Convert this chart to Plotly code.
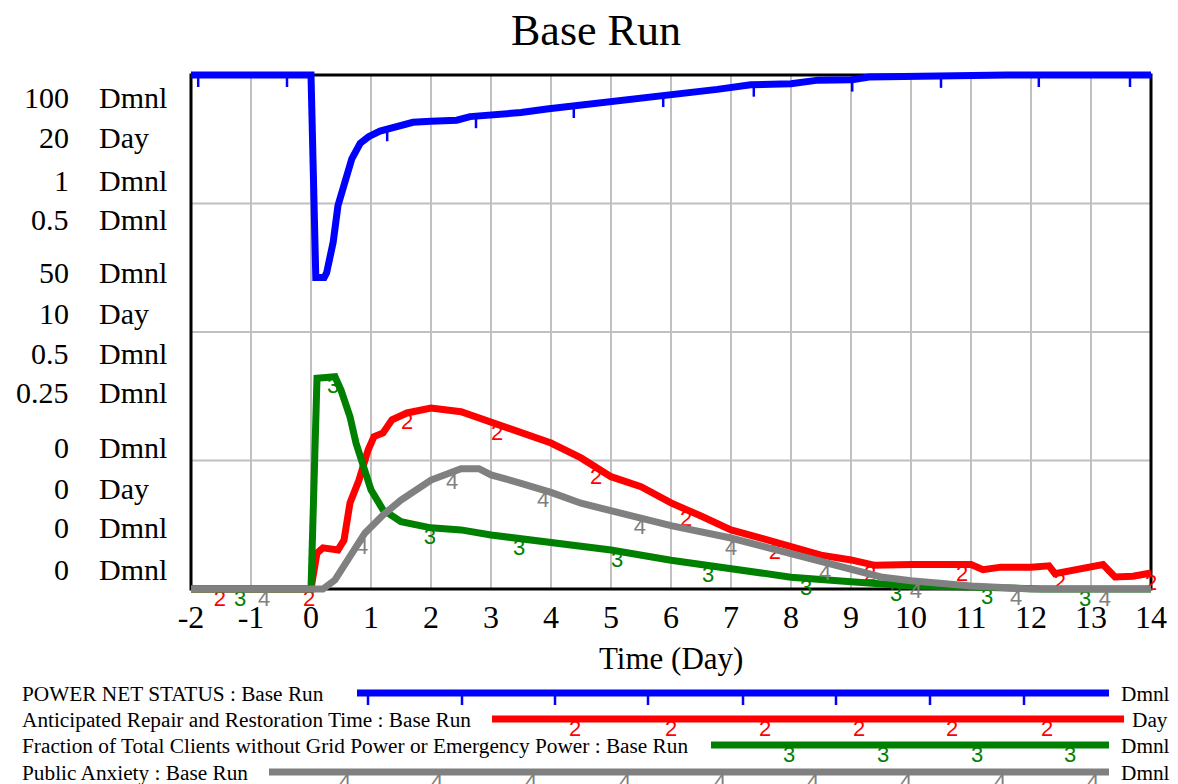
import numpy as np
import plotly.graph_objects as go

# ---------------- data ----------------
time_power = [-2, 0, 0.08, 0.22, 0.26, 0.37, 0.45, 0.53, 0.68, 0.82, 0.96, 1.15, 1.43, 1.7, 2.0,
              2.43, 2.65, 3.1, 3.5, 3.93, 4.48, 5.04, 5.6, 6.15, 6.77, 7.33, 8.0, 8.45, 9.02, 9.3,
              10.03, 11.48, 11.6, 14]
power_net_status = [100, 100, 60.6, 60.6, 61.5, 67.5, 74.6, 77.9, 83.7, 86.7, 88.0, 89.1, 89.9, 90.8, 91.0,
                    91.2, 91.9, 92.3, 92.7, 93.4, 94.1, 95.1, 95.8, 96.4, 97.2, 98.1, 98.3, 99.0, 99.1, 99.6,
                    99.8, 99.9, 100, 100]

time_repair = [-2, 0, 0.1, 0.2, 0.45, 0.55, 0.65, 0.8, 0.95, 1.05, 1.2, 1.35, 1.6, 2.0, 2.5, 3.0, 3.5,
               4.0, 4.5, 5.0, 5.5, 6.0, 6.5, 7.0, 7.5, 8.0, 8.5, 9.0, 9.4, 10, 10.5, 11, 11.2, 11.5,
               12, 12.3, 12.4, 12.7, 13, 13.2, 13.4, 13.7, 14]
repair_time = [0, 0, 1.4, 1.6, 1.52, 1.9, 3.35, 4.24, 5.4, 5.93, 6.07, 6.58, 6.85, 7.04, 6.9, 6.51, 6.07,
               5.68, 5.1, 4.37, 3.98, 3.35, 2.84, 2.3, 1.98, 1.64, 1.32, 1.13, 0.92, 0.95, 0.92, 0.95, 0.75, 0.85,
               0.85, 0.9, 0.6, 0.72, 0.85, 0.95, 0.47, 0.5, 0.62]

time_fraction = [-2, 0, 0.1, 0.4, 0.5, 0.65, 0.75, 0.9, 1.0, 1.2, 1.5, 2.0, 2.5, 3.0, 4.0, 5.0, 6.0,
                 7.0, 8.0, 9.0, 10.0, 11.0, 12.2, 14]
fraction_without_power = [0, 0, 0.41, 0.413, 0.387, 0.335, 0.284, 0.231, 0.193, 0.154, 0.131, 0.119, 0.115,
                          0.105, 0.092, 0.076, 0.056, 0.039, 0.023, 0.014, 0.006, 0.004, 0.0, 0.0]

time_anxiety = [-2, 0.2, 0.4, 0.6, 0.9, 1.2, 1.5, 2.0, 2.5, 2.8, 3.0, 3.5, 4.0, 4.5, 5.0, 5.5, 6.0,
                7.0, 8.0, 9.0, 9.5, 10.0, 11.0, 12.0, 14]
public_anxiety = [0, 0, 0.0088, 0.0266, 0.0545, 0.072, 0.0866, 0.106, 0.117, 0.117, 0.111, 0.1028, 0.094,
                  0.0834, 0.0762, 0.0688, 0.0616, 0.0496, 0.0344, 0.018, 0.0117, 0.008, 0.003, 0, 0]

# positions along time where Vensim puts its series identifiers
power_tick_times = [-1.88, -0.4, 1.27, 2.75, 4.38, 5.87, 7.38, 9.02, 10.5, 12.13, 13.65]
repair_mark_times = [-1.52, -0.03, 1.6, 3.1, 4.75, 6.25, 7.73, 9.32, 10.85, 12.48, 14.0]
fraction_mark_times = [-1.18, 0.37, 1.98, 3.47, 5.1, 6.62, 8.25, 9.75, 11.27, 12.9]
anxiety_mark_times = [-0.78, 0.85, 2.35, 3.87, 5.48, 7.0, 8.57, 10.08, 11.75, 13.23]

series_names = ["POWER NET STATUS : Base Run",
                "Anticipated Repair and Restoration Time : Base Run",
                "Fraction of Total Clients without Grid Power or Emergency Power : Base Run",
                "Public Anxiety : Base Run"]
series_units = ["Dmnl", "Day", "Dmnl", "Dmnl"]
scale_max = [100, 20, 1, 0.5]
top_labels = ["100", "20", "1", "0.5"]
mid_labels = ["50", "10", "0.5", "0.25"]
low_labels = ["0", "0", "0", "0"]
x_ticks = list(range(-2, 15))

# ---------------- styling / geometry ----------------
W, H = 1178, 784
FL, FR, FT, FB = 191, 1151, 75, 589   # frame in pixels
PAD = 6
PL, PR, PT, PB = FL - PAD, FR + PAD, FT - PAD, FB + PAD
PW, PH = PR - PL, PB - PT
XMIN, XMAX = -2, 14
xpad = PAD * (XMAX - XMIN) / (FR - FL)
ypf = PAD / (FB - FT)

BLUE, RED, GREEN, GRAY = "#0000ff", "#ff0000", "#008000", "#808080"
colors = [BLUE, RED, GREEN, GRAY]
SERIF = "Liberation Serif"
SANS = "Liberation Sans"
LW = 7


def px2x(px):
    return (px - PL) / PW


def py2y(py):
    return (PB - py) / PH


fig = go.Figure()

# lines (drawn back to front: series 4 first)
fig.add_trace(go.Scatter(x=time_anxiety, y=public_anxiety, mode="lines", yaxis="y4",
                         line=dict(color=GRAY, width=LW)))
fig.add_trace(go.Scatter(x=time_fraction, y=fraction_without_power, mode="lines", yaxis="y3",
                         line=dict(color=GREEN, width=LW)))
fig.add_trace(go.Scatter(x=time_repair, y=repair_time, mode="lines", yaxis="y2",
                         line=dict(color=RED, width=LW)))
fig.add_trace(go.Scatter(x=time_power, y=power_net_status, mode="lines", yaxis="y",
                         line=dict(color=BLUE, width=LW)))

# series identifiers
tick_len = 12 / (FB - FT) * scale_max[0]
fig.add_trace(go.Scatter(
    x=power_tick_times, y=np.interp(power_tick_times, time_power, power_net_status),
    mode="markers", yaxis="y", marker=dict(size=1, color=BLUE),
    error_y=dict(type="data", symmetric=False, array=[0] * len(power_tick_times),
                 arrayminus=[tick_len] * len(power_tick_times), color=BLUE, thickness=2.5, width=0)))

for times, tx, ty, label, col, ax in [
    (repair_mark_times, time_repair, repair_time, "2", RED, "y2"),
    (fraction_mark_times, time_fraction, fraction_without_power, "3", GREEN, "y3"),
    (anxiety_mark_times, time_anxiety, public_anxiety, "4", GRAY, "y4"),
]:
    fig.add_trace(go.Scatter(x=times, y=np.interp(times, tx, ty), mode="text", yaxis=ax,
                             text=[label] * len(times), textposition="bottom center",
                             textfont=dict(family=SANS, size=22, color=col), cliponaxis=False))

# grid and frame
shapes = []
for xv in x_ticks[1:-1]:
    shapes.append(dict(type="line", xref="x", yref="y", x0=xv, x1=xv, y0=0, y1=scale_max[0],
                       line=dict(color="#c0c0c0", width=2), layer="below"))
for k in (1, 2, 3):
    yv = scale_max[0] * k / 4
    shapes.append(dict(type="line", xref="x", yref="y", x0=XMIN, x1=XMAX, y0=yv, y1=yv,
                       line=dict(color="#c0c0c0", width=2), layer="below"))
shapes.append(dict(type="rect", xref="x", yref="y", x0=XMIN, x1=XMAX, y0=0, y1=scale_max[0],
                   line=dict(color="black", width=3), layer="below"))

annotations = []
# title and x-axis title
annotations.append(dict(text="Base Run", xref="paper", yref="paper", x=px2x(596), y=py2y(31),
                        showarrow=False, font=dict(family=SERIF, size=44, color="black"),
                        xanchor="center", yanchor="middle"))
annotations.append(dict(text="Time (Day)", xref="paper", yref="paper", x=px2x(671), y=py2y(658),
                        showarrow=False, font=dict(family=SERIF, size=31, color="black"),
                        xanchor="center", yanchor="middle"))

# stacked multi-scale y labels
row_y = [[98, 138, 180, 219], [272, 313, 353, 393], [447, 489, 527, 569]]
for grp, labels in zip(row_y, [top_labels, mid_labels, low_labels]):
    for py, lab, unit in zip(grp, labels, series_units):
        annotations.append(dict(text=lab, xref="paper", yref="paper", x=px2x(71), y=py2y(py),
                                showarrow=False, xanchor="right", yanchor="middle",
                                font=dict(family=SERIF, size=30, color="black")))
        annotations.append(dict(text=unit, xref="paper", yref="paper", x=px2x(97), y=py2y(py),
                                showarrow=False, xanchor="left", yanchor="middle",
                                font=dict(family=SERIF, size=30, color="black")))

# legend block
leg_rows = [694, 720, 746, 773]
leg_lines = [(357, 1109), (492, 1124), (711, 1109), (269, 1109)]
leg_marks = [
    [368, 462, 555, 648, 743, 836, 930, 1024],
    [575, 671, 765, 859, 952, 1047],
    [789, 883, 977, 1070],
    [345, 437, 531, 625, 720, 813, 906, 1000, 1093],
]
leg_unit_right = [1172, 1170, 1172, 1172]
for i in range(4):
    py = leg_rows[i]
    annotations.append(dict(text=series_names[i], xref="paper", yref="paper", x=px2x(20), y=py2y(py),
                            showarrow=False, xanchor="left", yanchor="middle",
                            font=dict(family=SERIF, size=21.3, color="black")))
    annotations.append(dict(text=series_units[i], xref="paper", yref="paper", x=px2x(leg_unit_right[i]),
                            y=py2y(py), showarrow=False, xanchor="right", yanchor="middle",
                            font=dict(family=SERIF, size=21.3, color="black")))
    ly = py - 1
    shapes.append(dict(type="line", xref="paper", yref="paper", x0=px2x(leg_lines[i][0]),
                       x1=px2x(leg_lines[i][1]), y0=py2y(ly), y1=py2y(ly),
                       line=dict(color=colors[i], width=LW), layer="above"))
    for mx in leg_marks[i]:
        if i == 0:
            shapes.append(dict(type="line", xref="paper", yref="paper", x0=px2x(mx), x1=px2x(mx),
                               y0=py2y(ly), y1=py2y(ly + 12),
                               line=dict(color=BLUE, width=2.5), layer="above"))
        else:
            annotations.append(dict(text=str(i + 1), xref="paper", yref="paper", x=px2x(mx),
                                    y=py2y(ly + 9), showarrow=False, xanchor="center", yanchor="middle",
                                    font=dict(family=SANS, size=22, color=colors[i])))

axis_common = dict(visible=False, fixedrange=True)
fig.update_layout(
    width=W, height=H,
    margin=dict(l=PL, r=W - PR, t=PT, b=H - PB, pad=0),
    paper_bgcolor="white", plot_bgcolor="white",
    showlegend=False,
    xaxis=dict(range=[XMIN - xpad, XMAX + xpad], showgrid=False, zeroline=False, showline=False,
               tickmode="array", tickvals=x_ticks, ticktext=[str(v) for v in x_ticks], ticks="",
               tickfont=dict(family=SERIF, size=32, color="black"), fixedrange=True),
    yaxis=dict(range=[-scale_max[0] * ypf, scale_max[0] * (1 + ypf)], **axis_common),
    yaxis2=dict(range=[-scale_max[1] * ypf, scale_max[1] * (1 + ypf)], overlaying="y", **axis_common),
    yaxis3=dict(range=[-scale_max[2] * ypf, scale_max[2] * (1 + ypf)], overlaying="y", **axis_common),
    yaxis4=dict(range=[-scale_max[3] * ypf, scale_max[3] * (1 + ypf)], overlaying="y", **axis_common),
    shapes=shapes,
    annotations=annotations,
    hovermode=False,
)

fig.write_html("out.html", config={"displayModeBar": False},
               post_script="document.body.style.margin='0';document.body.style.padding='0';")
